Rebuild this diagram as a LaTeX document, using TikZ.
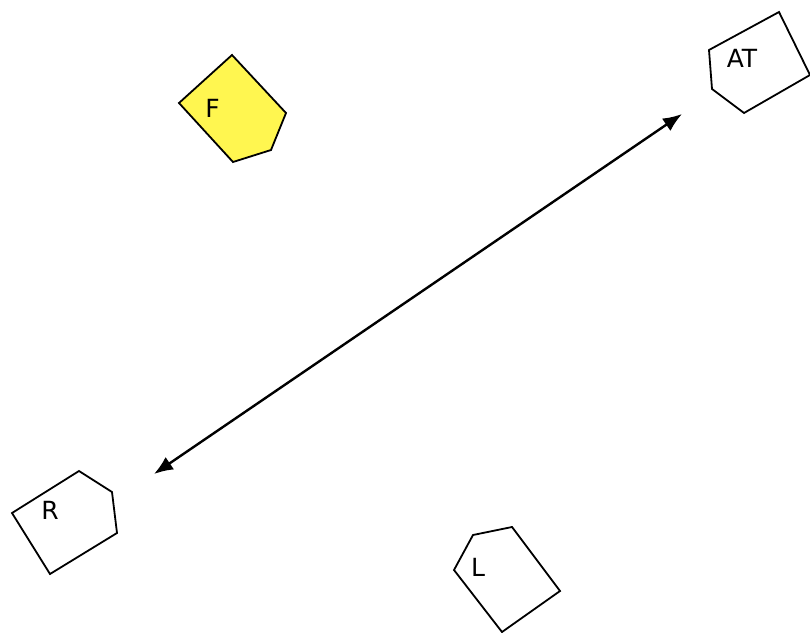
\documentclass[tikz,border=0pt]{standalone}
\usepackage{fontspec}
\setmainfont{DejaVu Sans}
\usetikzlibrary{arrows.meta}
\definecolor{shapefill}{RGB}{255,246,80}
\tikzset{
  blob/.style={draw=black, line width=1.8pt, line join=miter},
  tag/.style={font=\fontsize{25}{27}\selectfont, inner sep=0pt},
  link/.style={line width=2.4pt, {Latex[length=19pt,width=15pt]}-{Latex[length=19pt,width=15pt]}}
}
\begin{document}
\begin{tikzpicture}[x=1pt,y=-1pt]
  \useasboundingbox (0,0) rectangle (810,632);
  % pentagon F
  \draw[blob, fill=shapefill] (232,55) -- (286,113) -- (271,150) -- (233,162) -- (179,103) -- cycle;
  \node[tag] (F) at (212.5,108) {F};
  % pentagon AT
  \draw[blob] (779,12) -- (810,75) -- (744,113) -- (712,89) -- (709,50) -- cycle;
  \node[tag] (AT) at (742,58) {AT};
  % pentagon R
  \draw[blob] (79,471) -- (112,492) -- (117,533) -- (50,574) -- (12,513) -- cycle;
  \node[tag] (R) at (50,510) {R};
  % pentagon L
  \draw[blob] (512,527) -- (560,591) -- (502,632) -- (454,570) -- (473,535) -- cycle;
  \node[tag] (L) at (478,567) {L};
  % two-headed link
  \coordinate (endR) at (154,474);
  \coordinate (endAT) at (682,114);
  \draw[link] (endR) -- (endAT);
\end{tikzpicture}
\end{document}
